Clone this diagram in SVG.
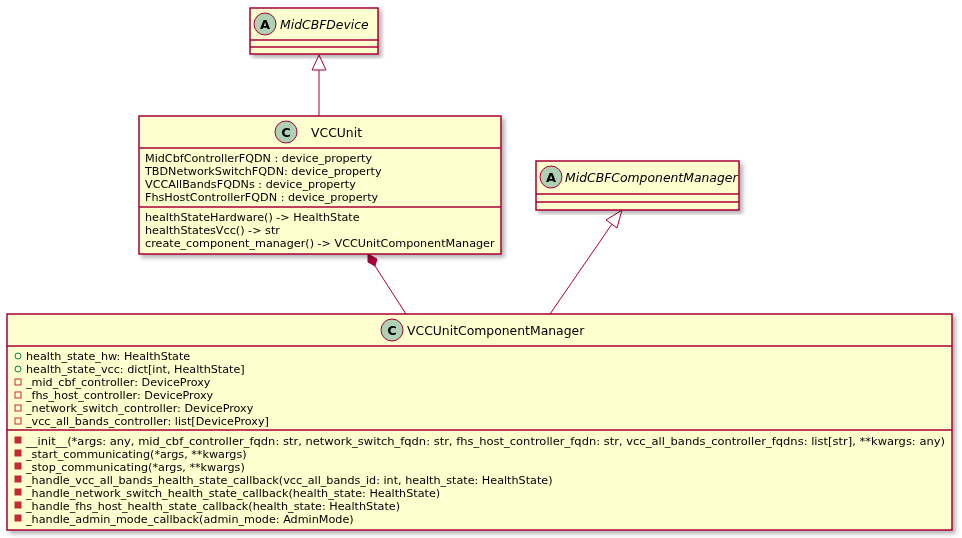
<svg xmlns="http://www.w3.org/2000/svg" width="962" height="538" viewBox="0 0 962 538">
<style>
.box{fill:#FEFECE;stroke:#A80036;stroke-width:1.5}
.sep{stroke:#A80036;stroke-width:1.5}
.t{font-family:"DejaVu Sans",sans-serif;font-size:11.2px;fill:#000}
.h{font-family:"DejaVu Sans",sans-serif;font-size:12.4px;fill:#000}
.hi{font-family:"DejaVu Sans",sans-serif;font-size:12.4px;font-style:italic;fill:#000}
.sp{fill:#ADD1B2;stroke:#A80036;stroke-width:1}
.cl{font-family:"DejaVu Sans",sans-serif;font-size:13px;font-weight:bold;fill:#000;text-anchor:middle}
.e{stroke:#A80036;stroke-width:1;fill:none}
.pv{fill:none;stroke:#C82930}
.pm{fill:#C82930;stroke:#C82930}
.pub{fill:none;stroke:#038048}
</style>
<defs>
<filter id="sh" x="-5%" y="-5%" width="110%" height="115%"><feDropShadow dx="3" dy="3" stdDeviation="2" flood-color="#000" flood-opacity="0.3"/></filter>
</defs>
<g id="connectors">
<line class="e" x1="319" y1="70" x2="319" y2="116"/>
<polygon points="319,55 312,70 326,70" fill="#fff" stroke="#A80036"/>
<line class="e" x1="375" y1="266" x2="406" y2="314"/>
<polygon points="368,254 368,262 375,266 377,259" fill="#A80036" stroke="#A80036"/>
<line class="e" x1="612" y1="224" x2="550" y2="314"/>
<polygon points="622,210 606,220 617,228" fill="#fff" stroke="#A80036"/>
</g>
<g id="MidCBFDevice" filter="url(#sh)">
<rect class="box" x="250" y="8" width="128" height="46"/>
<line class="sep" x1="250" y1="40" x2="378" y2="40"/><line class="sep" x1="250" y1="47" x2="378" y2="47"/>
<circle class="sp" cx="265" cy="24" r="11"/><text class="cl" x="265" y="29">A</text>
<text class="hi" x="280" y="29">MidCBFDevice</text>
</g>
<g id="VCCUnit" filter="url(#sh)">
<rect class="box" x="139" y="116" width="362" height="138"/>
<line class="sep" x1="139" y1="148" x2="501" y2="148"/><line class="sep" x1="139" y1="207" x2="501" y2="207"/>
<circle class="sp" cx="286" cy="132" r="11"/><text class="cl" x="286" y="137">C</text>
<text class="h" x="311" y="137">VCCUnit</text>
<text class="t" x="145" y="162">MidCbfControllerFQDN : device_property</text>
<text class="t" x="145" y="175">TBDNetworkSwitchFQDN: device_property</text>
<text class="t" x="145" y="188">VCCAllBandsFQDNs : device_property</text>
<text class="t" x="145" y="201">FhsHostControllerFQDN : device_property</text>
<text class="t" x="145" y="221">healthStateHardware() -&gt; HealthState</text>
<text class="t" x="145" y="234">healthStatesVcc() -&gt; str</text>
<text class="t" x="145" y="247">create_component_manager() -&gt; VCCUnitComponentManager</text>
</g>
<g id="MidCBFComponentManager" filter="url(#sh)">
<rect class="box" x="536" y="161" width="203" height="49"/>
<line class="sep" x1="536" y1="194" x2="739" y2="194"/><line class="sep" x1="536" y1="202" x2="739" y2="202"/>
<circle class="sp" cx="551" cy="177" r="11"/><text class="cl" x="551" y="182">A</text>
<text class="hi" x="565" y="182">MidCBFComponentManager</text>
</g>
<g id="VCCUnitComponentManager" filter="url(#sh)">
<rect class="box" x="7" y="314" width="945" height="216"/>
<line class="sep" x1="7" y1="346" x2="952" y2="346"/><line class="sep" x1="7" y1="430" x2="952" y2="430"/>
<circle class="sp" cx="392" cy="330" r="11"/><text class="cl" x="392" y="335">C</text>
<text class="h" x="407" y="335">VCCUnitComponentManager</text>
<circle class="pub" cx="18" cy="356" r="3"/><text class="t" x="26" y="360">health_state_hw: HealthState</text>
<circle class="pub" cx="18" cy="369" r="3"/><text class="t" x="26" y="373">health_state_vcc: dict[int, HealthState]</text>
<rect class="pv" x="15" y="379" width="6" height="6"/><text class="t" x="26" y="386">_mid_cbf_controller: DeviceProxy</text>
<rect class="pv" x="15" y="392" width="6" height="6"/><text class="t" x="26" y="399">_fhs_host_controller: DeviceProxy</text>
<rect class="pv" x="15" y="405" width="6" height="6"/><text class="t" x="26" y="412">_network_switch_controller: DeviceProxy</text>
<rect class="pv" x="15" y="418" width="6" height="6"/><text class="t" x="26" y="425">_vcc_all_bands_controller: list[DeviceProxy]</text>
<rect class="pm" x="15" y="437" width="6" height="6"/><text class="t" x="26" y="445" textLength="919" lengthAdjust="spacingAndGlyphs">__init__(*args: any, mid_cbf_controller_fqdn: str, network_switch_fqdn: str, fhs_host_controller_fqdn: str, vcc_all_bands_controller_fqdns: list[str], **kwargs: any)</text>
<rect class="pm" x="15" y="450" width="6" height="6"/><text class="t" x="26" y="458">_start_communicating(*args, **kwargs)</text>
<rect class="pm" x="15" y="463" width="6" height="6"/><text class="t" x="26" y="471">_stop_communicating(*args, **kwargs)</text>
<rect class="pm" x="15" y="476" width="6" height="6"/><text class="t" x="26" y="484">_handle_vcc_all_bands_health_state_callback(vcc_all_bands_id: int, health_state: HealthState)</text>
<rect class="pm" x="15" y="489" width="6" height="6"/><text class="t" x="26" y="497">_handle_network_switch_health_state_callback(health_state: HealthState)</text>
<rect class="pm" x="15" y="502" width="6" height="6"/><text class="t" x="26" y="510">_handle_fhs_host_health_state_callback(health_state: HealthState)</text>
<rect class="pm" x="15" y="515" width="6" height="6"/><text class="t" x="26" y="523">_handle_admin_mode_callback(admin_mode: AdminMode)</text>
</g>
</svg>
